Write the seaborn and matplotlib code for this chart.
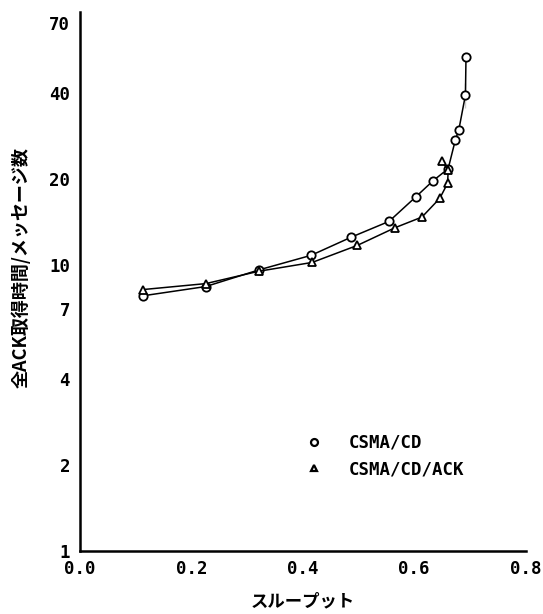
import numpy as np
import pandas as pd
import matplotlib
matplotlib.use("Agg")
import matplotlib.pyplot as plt
from matplotlib.lines import Line2D
from matplotlib.ticker import FixedLocator, NullLocator, FixedFormatter
import seaborn as sns

# CSMA/CD (circles)
csma_x = [0.114, 0.226, 0.321, 0.415, 0.487, 0.555, 0.603, 0.634, 0.661, 0.674, 0.680, 0.692, 0.692, 0.693]
csma_y = [7.8, 8.4, 9.6, 10.8, 12.5, 14.2, 17.3, 19.7, 21.7, 27.4, 29.6, 35.3, 43.3, 53.4]

# CSMA/CD/ACK (triangles)
ack_x = [0.114, 0.226, 0.321, 0.417, 0.498, 0.566, 0.614, 0.646, 0.660, 0.661, 0.650]
ack_y = [8.2, 8.6, 9.5, 10.2, 11.7, 13.5, 14.7, 17.1, 19.3, 21.4, 23.1]

y_ticks = [1, 2, 4, 7, 10, 20, 40, 70]
x_ticks = [0.0, 0.1, 0.2, 0.3, 0.4, 0.5, 0.6, 0.7, 0.8]
x_labels = ["0.0", "", "0.2", "", "0.4", "", "0.6", "", "0.8"]

df_csma = pd.DataFrame({"x": csma_x, "y": csma_y})
df_ack = pd.DataFrame({"x": ack_x, "y": ack_y})

sns.set_style("white", {"text.color": "black", "axes.labelcolor": "black",
                        "xtick.color": "black", "ytick.color": "black"})
mono = "DejaVu Sans Mono"
jp = ["Noto Sans CJK JP", "DejaVu Sans"]

fig = plt.figure(figsize=(5.43, 6.14), dpi=100)
ax = fig.add_axes([0.147, 0.103, 0.821, 0.877])

sns.lineplot(data=df_csma, x="x", y="y", sort=False, ax=ax, color="black",
             linewidth=1.1, marker="o", markersize=6, markerfacecolor="white",
             markeredgecolor="black", markeredgewidth=1.3)
sns.lineplot(data=df_ack, x="x", y="y", sort=False, ax=ax, color="black",
             linewidth=1.1, marker="^", markersize=6, markerfacecolor="white",
             markeredgecolor="black", markeredgewidth=1.3)

ax.set_yscale("log")
ax.set_xlim(0, 0.8)
ax.set_ylim(1, 76.5)
ax.yaxis.set_major_locator(FixedLocator(y_ticks))
ax.yaxis.set_major_formatter(FixedFormatter([str(v) for v in y_ticks]))
ax.yaxis.set_minor_locator(NullLocator())
ax.xaxis.set_major_locator(FixedLocator(x_ticks))
ax.xaxis.set_major_formatter(FixedFormatter(x_labels))

for s in ["top", "right"]:
    ax.spines[s].set_visible(False)
for s in ["left", "bottom"]:
    ax.spines[s].set_linewidth(1.8)
    ax.spines[s].set_color("black")

ax.tick_params(axis="both", direction="in", length=5, width=1.3, color="black",
               labelcolor="black", labelsize=12.5, pad=7)
for lab in ax.get_xticklabels() + ax.get_yticklabels():
    lab.set_fontfamily(mono)
    lab.set_fontweight("bold")

ax.set_xlabel("スループット", family=jp, fontweight="bold", fontsize=12.5, labelpad=10)
ax.set_ylabel("全ACK取得時間/メッセージ数", family=jp, fontweight="bold", fontsize=13)
ax.yaxis.set_label_coords(-0.11, 0.525)

handles = [
    Line2D([], [], linestyle="none", marker="o", markersize=5, markerfacecolor="white",
           markeredgecolor="black", markeredgewidth=1.6),
    Line2D([], [], linestyle="none", marker="^", markersize=5, markerfacecolor="white",
           markeredgecolor="black", markeredgewidth=1.6),
]
ax.legend(handles, ["CSMA/CD", "CSMA/CD/ACK"], loc="center left",
          bbox_to_anchor=(0.487, 0.176), frameon=False,
          prop={"family": mono, "weight": "bold", "size": 12.5},
          handlelength=1.0, handletextpad=1.5, labelspacing=0.5, borderpad=0)

fig.savefig("out.png", dpi=100)
